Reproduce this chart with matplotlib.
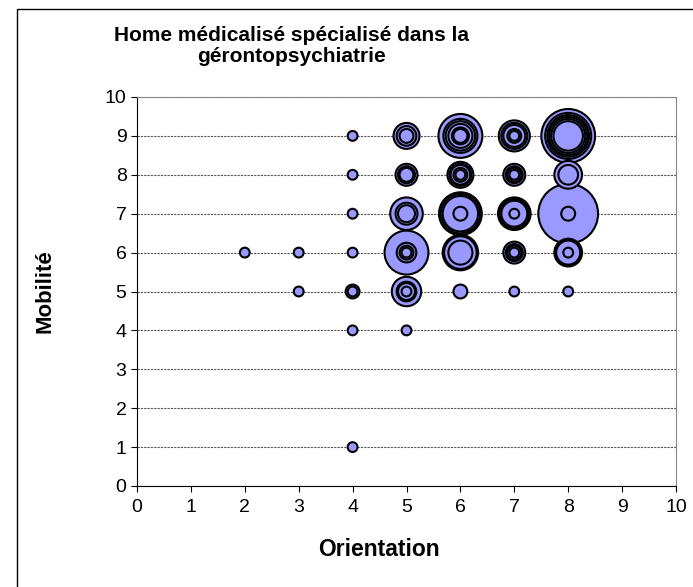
import numpy as np
import matplotlib.pyplot as plt
from matplotlib.patches import Rectangle

plt.rcParams['font.family'] = ['Liberation Sans', 'DejaVu Sans']

# points (orientation, mobilite) and the bubble sizes stacked at each point
orientation = [2, 3, 3, 4, 4, 4, 4, 4, 4, 4,
               5, 5, 5, 5, 5, 5,
               6, 6, 6, 6, 6,
               7, 7, 7, 7, 7,
               8, 8, 8, 8, 8]
mobilite = [6, 6, 5, 9, 8, 7, 6, 5, 4, 1,
            9, 8, 7, 6, 5, 4,
            9, 8, 7, 6, 5,
            9, 8, 7, 6, 5,
            9, 8, 7, 6, 5]
effectifs = [[1], [1], [1], [1], [1], [1], [1], [2, 1], [1], [1],
             [7, 4, 2], [5, 3, 2], [11, 5, 3], [20, 4, 2, 1], [9, 4, 3, 1], [1],
             [20, 12, 9, 6, 3, 2], [7, 5, 4, 2, 1], [19, 16, 13, 2], [13, 11, 6], [2],
             [10, 7, 5, 2, 1], [5, 3, 2, 1], [11, 9, 7, 1], [5, 3, 2, 1], [1],
             [30, 22, 18, 15, 12, 9], [8, 4], [37, 2], [8, 7, 6, 1], [1]]

xs, ys, ns = [], [], []
for x, y, sizes in zip(orientation, mobilite, effectifs):
    for n in sizes:
        xs.append(x)
        ys.append(y)
        ns.append(n)
xs = np.array(xs)
ys = np.array(ys)
ns = np.array(ns)
order = np.argsort(-ns, kind='stable')  # biggest first so small ones stay visible

fig = plt.figure(figsize=(6.93, 5.87), dpi=100)
fig.patches.append(Rectangle((17 / 693, -0.01), 1.0, 1 - 9 / 587 + 0.01,
                             transform=fig.transFigure, fill=False,
                             edgecolor='black', linewidth=1.0))

ax = fig.add_axes([137 / 693, 101 / 587, 539 / 693, 389 / 587])
ax.scatter(xs[order], ys[order], s=50 * ns[order], c='#9999FF',
           edgecolors='black', linewidths=1.5, zorder=3, clip_on=False)

ax.set_xlim(0, 10)
ax.set_ylim(0, 10)
ax.set_xticks(range(11))
ax.set_yticks(range(11))
ax.tick_params(labelsize=14, direction='out', length=4, width=0.8)
ax.tick_params(axis='x', pad=5)
ax.grid(axis='y', linestyle=(0, (2, 1)), color='#555555', linewidth=0.8, zorder=1)
for side in ['top', 'right']:
    ax.spines[side].set_color('#888888')
for side in ['left', 'bottom']:
    ax.spines[side].set_color('black')

fig.text(291 / 693, 1 - 46 / 587, 'Home médicalisé spécialisé dans la\ngérontopsychiatrie',
         ha='center', va='center', fontsize=15, fontweight='bold', linespacing=1.1)
fig.text(379 / 693, 1 - 550 / 587, 'Orientation', ha='center', va='center',
         fontsize=16.5, fontweight='bold')
fig.text(45 / 693, 1 - 291 / 587, 'Mobilité', ha='center', va='center',
         fontsize=16, fontweight='bold', rotation=90)

fig.savefig('out.png', dpi=100)
